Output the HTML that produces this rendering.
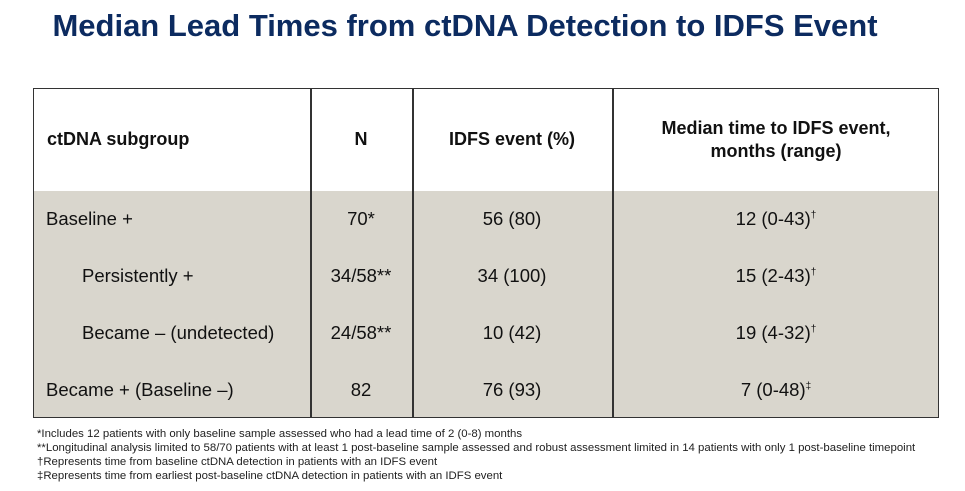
<!DOCTYPE html>
<html><head><style>
body{margin:0;width:965px;height:491px;background:#fff;font-family:"Liberation Sans",Arial,sans-serif;position:relative;overflow:hidden}
h1{position:absolute;left:0;width:930px;text-align:center;top:8px;margin:0;font-size:31px;font-weight:bold;color:#0c2b60}
.t{position:absolute;left:33px;top:88px;width:906px;height:330px;border:1.5px solid #333;box-sizing:border-box}
.hd{position:absolute;left:0;top:0;right:0;height:102px;background:#fff;border-bottom:1.5px solid #333}
.bd{position:absolute;left:0;top:102px;right:0;bottom:0;background:#d9d6cd}
.v{position:absolute;top:0;bottom:0;width:1.5px;background:#333}
.c{position:absolute;font-size:18.5px;color:#111;white-space:nowrap}
.b{font-weight:bold;font-size:18px}
.fn{position:absolute;left:37px;font-size:11.4px;color:#222;white-space:nowrap}
</style></head><body>
<h1>Median Lead Times from ctDNA Detection to IDFS Event</h1>
<div class="t">
<div class="hd"></div><div class="bd"></div>
<div class="v" style="left:276px"></div>
<div class="v" style="left:378px"></div>
<div class="v" style="left:578px"></div>
<div class="c b" style="left:13px;top:40px">ctDNA subgroup</div>
<div class="c b" style="left:276px;width:102px;text-align:center;top:40px">N</div>
<div class="c b" style="left:378px;width:200px;text-align:center;top:40px">IDFS event (%)</div>
<div class="c b" style="left:578px;width:328px;text-align:center;top:28px;line-height:23px">Median time to IDFS event,<br>months (range)</div>
<div class="c" style="left:12px;top:119px">Baseline +</div>
<div class="c" style="left:48px;top:176px">Persistently +</div>
<div class="c" style="left:48px;top:233px">Became – (undetected)</div>
<div class="c" style="left:12px;top:290px">Became + (Baseline –)</div>
<div class="c" style="left:276px;width:102px;text-align:center;top:119px">70*</div>
<div class="c" style="left:276px;width:102px;text-align:center;top:176px">34/58**</div>
<div class="c" style="left:276px;width:102px;text-align:center;top:233px">24/58**</div>
<div class="c" style="left:276px;width:102px;text-align:center;top:290px">82</div>
<div class="c" style="left:378px;width:200px;text-align:center;top:119px">56 (80)</div>
<div class="c" style="left:378px;width:200px;text-align:center;top:176px">34 (100)</div>
<div class="c" style="left:378px;width:200px;text-align:center;top:233px">10 (42)</div>
<div class="c" style="left:378px;width:200px;text-align:center;top:290px">76 (93)</div>
<div class="c" style="left:578px;width:328px;text-align:center;top:119px">12 (0-43)<sup style="font-size:10px">†</sup></div>
<div class="c" style="left:578px;width:328px;text-align:center;top:176px">15 (2-43)<sup style="font-size:10px">†</sup></div>
<div class="c" style="left:578px;width:328px;text-align:center;top:233px">19 (4-32)<sup style="font-size:10px">†</sup></div>
<div class="c" style="left:578px;width:328px;text-align:center;top:290px">7 (0-48)<sup style="font-size:10px">‡</sup></div>
</div>
<div class="fn" style="top:428px">*Includes 12 patients with only baseline sample assessed who had a lead time of 2 (0-8) months</div>
<div class="fn" style="top:442px">**Longitudinal analysis limited to 58/70 patients with at least 1 post-baseline sample assessed and robust assessment limited in 14 patients with only 1 post-baseline timepoint</div>
<div class="fn" style="top:456px">†Represents time from baseline ctDNA detection in patients with an IDFS event</div>
<div class="fn" style="top:470px">‡Represents time from earliest post-baseline ctDNA detection in patients with an IDFS event</div>
</body></html>
